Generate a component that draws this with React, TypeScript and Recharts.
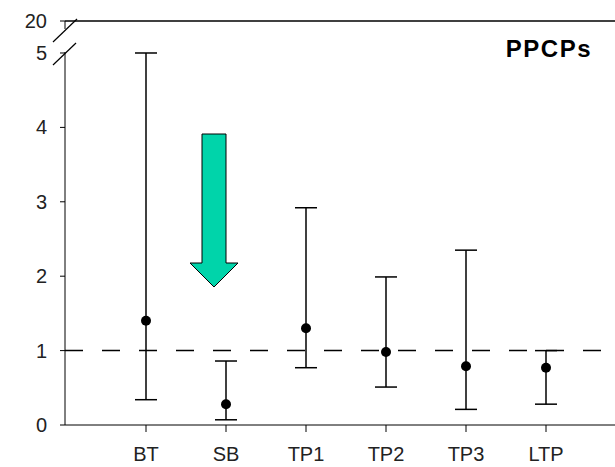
import { ComposedChart, Scatter, ErrorBar, XAxis, YAxis, ReferenceLine } from 'recharts';

const sites = ['BT', 'SB', 'TP1', 'TP2', 'TP3', 'LTP'];
const medians = [1.4, 0.28, 1.3, 0.98, 0.79, 0.77];
const lows = [0.34, 0.07, 0.77, 0.51, 0.21, 0.28];
const highs = [5.0, 0.86, 2.92, 1.99, 2.35, 1.0];

// broken axis: top of the plot is shown as 20
const yTicks = [0, 1, 2, 3, 4, 5, 5.43];
const yTickLabels = ['0', '1', '2', '3', '4', '5', '20'];
const yTop = yTicks[yTicks.length - 1];

const data = sites.map((site, i) => ({
  site,
  value: medians[i],
  err: [medians[i] - lows[i], highs[i] - medians[i]],
}));

const W = 615;
const H = 467;
const CW = 630; // chart runs past the right edge, like the source figure
const font = 'Arial, "Liberation Sans", sans-serif';

export default function App() {
  return (
    <div style={{ position: 'absolute', left: 0, top: 0, width: W, height: H, overflow: 'hidden', background: '#fff' }}>
      <ComposedChart width={CW} height={H} data={data} margin={{ top: 21, right: 0, bottom: 0, left: 0 }}>
        <XAxis
          dataKey="site"
          type="category"
          ticks={sites}
          interval={0}
          padding={{ left: 81, right: 84 }}
          height={42}
          tickSize={7}
          tickMargin={15}
          stroke="#000"
          tick={{ fill: '#222', fontSize: 20, fontFamily: font }}
        />
        <YAxis
          type="number"
          domain={[0, yTop]}
          ticks={yTicks}
          interval={0}
          width={65}
          tickSize={5}
          tickMargin={13}
          stroke="#000"
          tickFormatter={(v: number) => yTickLabels[yTicks.indexOf(v)] ?? ''}
          tick={{ fill: '#222', fontSize: 20, fontFamily: font }}
        />
        <ReferenceLine y={yTop} stroke="#000" strokeWidth={1.5} />
        <ReferenceLine y={1} stroke="#000" strokeWidth={1.5} strokeDasharray="18 19" />
        <Scatter dataKey="value" fill="#000" isAnimationActive={false} shape={(p: any) => <circle cx={p.cx} cy={p.cy} r={5} fill="#000" />}>
          <ErrorBar dataKey="err" direction="y" width={11} stroke="#000" strokeWidth={1.5} isAnimationActive={false} />
        </Scatter>
      </ComposedChart>
      <svg width={W} height={H} style={{ position: 'absolute', left: 0, top: 0, pointerEvents: 'none' }}>
        {/* axis break */}
        <rect x={61} y={29} width={8} height={23} fill="#fff" />
        <line x1={53} y1={42} x2={77} y2={19} stroke="#000" strokeWidth={1.2} />
        <line x1={53} y1={65} x2={76} y2={43} stroke="#000" strokeWidth={1.2} />
        <rect x={598} y={427} width={17} height={40} fill="#fff" />
        {/* arrow */}
        <polygon
          points="202,134 226,134 226,263 238,263 214,287 190,263 202,263"
          fill="#00D4AA"
          stroke="#000"
          strokeWidth={1}
        />
        <text x={592} y={57} textAnchor="end" fontFamily={font} fontWeight="bold" fontSize={24} letterSpacing={1.5}>
          PPCPs
        </text>
      </svg>
    </div>
  );
}
